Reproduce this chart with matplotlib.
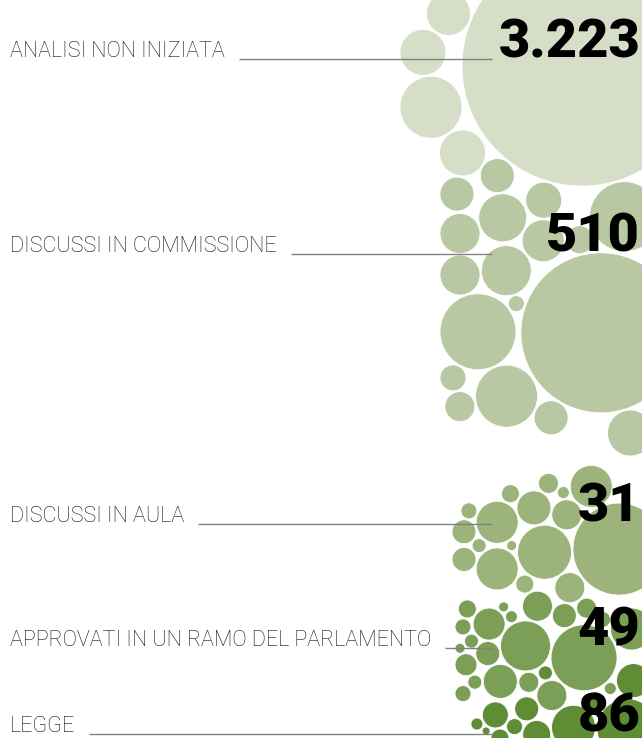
import numpy as np
import matplotlib
matplotlib.use("Agg")
import matplotlib.pyplot as plt
from matplotlib.patches import Circle

# ---------------- data ----------------
stages = ["ANALISI NON INIZIATA", "DISCUSSI IN COMMISSIONE", "DISCUSSI IN AULA",
          "APPROVATI IN UN RAMO DEL PARLAMENTO", "LEGGE"]
counts = ["3.223", "510", "31", "49", "86"]

radii_analisi = [120, 31, 25, 23, 23, 22]
radii_commissione = [80, 38, 35, 31, 25, 24, 23, 21, 20, 20, 18, 17, 17, 17, 15, 14, 13, 8]
radii_aula = [46, 27, 21, 21, 21, 17, 15, 15, 12, 12, 10, 9, 9, 8, 7, 6, 5]
radii_approvati = [33, 25, 21, 17, 16, 15, 15, 12, 12, 11, 10, 10, 9, 8, 8, 8, 7, 7, 6, 6, 5, 5]
radii_legge = [30, 22, 17, 14, 13, 12, 11, 10, 9, 8, 7, 6, 6, 4]

# ---------------- style / layout ----------------
colors = ["#d6dec8", "#b8c8a2", "#9cb47b", "#7b9f57", "#5e8d36"]
W, H = 642, 738
baseline_y = [57, 252, 522, 646, 732]
cluster_y = [85, 290, 545, 648, 722]
left_edge = [400, 440, 452, 455, 455]
line_end_x = 492

all_r = [radii_analisi, radii_commissione, radii_aula, radii_approvati, radii_legge]


def pack(groups, centers, lefts, n_iter=1100):
    r = np.concatenate([np.asarray(g, float) for g in groups])
    grp = np.concatenate([[k] * len(g) for k, g in enumerate(groups)])
    n = len(r)
    x = np.zeros(n)
    y = np.zeros(n)
    start = 0
    for k, g in enumerate(groups):
        ga = np.asarray(g, float)
        order = np.argsort(-ga, kind="stable")
        x0 = W - 0.5 * ga.max()
        for j, idx in enumerate(order):
            a = j * 2.399963
            d = 12.0 * np.sqrt(j)
            x[start + idx] = x0 - 1.5 * d * abs(np.cos(a)) - (8 if j else 0)
            y[start + idx] = centers[k] + 0.8 * d * np.sin(a)
        start += len(g)
    yt = np.array([centers[k] for k in grp], float)
    ky = np.clip(0.0012 * r, 0.008, 0.08)
    xmin = np.array([lefts[k] for k in grp], float) + r
    xmax = W - 0.5 * r
    pad = 1.5
    rr = r[:, None] + r[None, :] + pad
    w = (r[None, :] ** 2) / (r[:, None] ** 2 + r[None, :] ** 2)
    eye = np.eye(n, dtype=bool)
    for it in range(n_iter):
        f = max(0.0, 1.0 - it / (0.8 * n_iter))
        x += (5e-7 * r ** 3 + 0.01) * f
        y += ky * f * (yt - y)
        for _ in range(5):
            dx = x[:, None] - x[None, :]
            dy = y[:, None] - y[None, :]
            d = np.sqrt(dx * dx + dy * dy) + 1e-9
            ov = rr - d
            ov[eye] = 0
            ov = np.where(ov > 0, ov, 0.0) * w * 0.5
            x += (ov * dx / d).sum(axis=1)
            y += (ov * dy / d).sum(axis=1)
            x = np.clip(x, xmin, xmax)
    return x, y, r, grp


fig = plt.figure(figsize=(W / 100, H / 100), dpi=100)
ax = fig.add_axes([0, 0, 1, 1])
ax.set_xlim(0, W)
ax.set_ylim(H, 0)
ax.axis("off")

cx, cy, cr, cg = pack(all_r, cluster_y, left_edge)
for xi, yi, ri, gi in zip(cx, cy, cr, cg):
    ax.add_patch(Circle((xi, yi), ri, facecolor=colors[gi], edgecolor="white",
                        linewidth=0.6, zorder=1))

labels = []
for name, yb in zip(stages, baseline_y):
    t = ax.text(10, yb, name, fontsize=15.5, family="Roboto", fontweight="light",
                color="#111111", va="baseline", ha="left", zorder=3)
    labels.append(t)

fig.canvas.draw()
renderer = fig.canvas.get_renderer()
inv = ax.transData.inverted()
for t, yb in zip(labels, baseline_y):
    bb = t.get_window_extent(renderer)
    xe = inv.transform((bb.x1, bb.y0))[0]
    ax.plot([xe + 14, line_end_x], [yb + 1.5, yb + 1.5], color="#808080",
            linewidth=1.0, zorder=4, solid_capstyle="butt")

for c, yb in zip(counts, baseline_y):
    ax.text(640, yb, c, fontsize=39, family="Roboto", fontweight="black",
            color="#000000", va="baseline", ha="right", zorder=5)

fig.savefig("out.png", dpi=100)
